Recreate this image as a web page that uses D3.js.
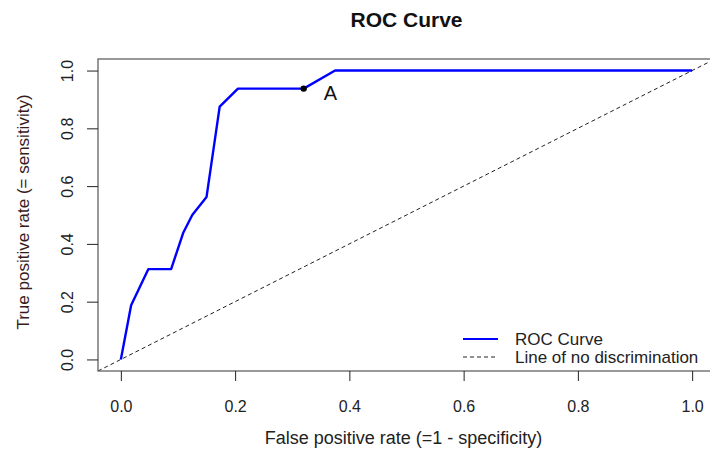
<!DOCTYPE html>
<html>
<head>
<meta charset="utf-8">
<script src="https://cdn.jsdelivr.net/npm/d3@7"></script>
<style>
  body { margin: 0; background: #fff; }
  text { font-family: "Liberation Sans", Arial, sans-serif; }
</style>
</head>
<body>
<div id="roc_chart"></div>
<script>
// ROC curve points
var fpr = [0, 0.018, 0.048, 0.088, 0.109, 0.125, 0.15, 0.173, 0.205, 0.32, 0.375, 1.0];
var tpr = [0, 0.1875, 0.3125, 0.3125, 0.4375, 0.5, 0.5625, 0.875, 0.9375, 0.9375, 1.0, 1.0];
var pointA = {x: 0.32, y: 0.9375, label: "A"};
var xTicks = [0, 0.2, 0.4, 0.6, 0.8, 1.0];
var yTicks = [0, 0.2, 0.4, 0.6, 0.8, 1.0];
var legendLabels = ["ROC Curve", "Line of no discrimination"];

function drawRoc() {
    var margin = {top: 59, right: -5, bottom: 79, left: 98},
        width = 710 - margin.left - margin.right,
        height = 450 - margin.top - margin.bottom;

    var svg = d3.select("#roc_chart")
      .append("svg")
        .attr("width", 710)
        .attr("height", 450)
        .style("display", "block");

    var g = svg.append("g")
        .attr("transform", "translate(" + margin.left + "," + margin.top + ")");

    // R style 4% padding on both axes
    var x = d3.scaleLinear().domain([-0.04, 1.04]).range([0, width]);
    var y = d3.scaleLinear().domain([-0.04, 1.04]).range([height, 0]);

    svg.append("defs").append("clipPath").attr("id", "plotclip")
      .append("rect").attr("width", width).attr("height", height);

    // diagonal, abline(0, 1)
    g.append("line")
        .attr("clip-path", "url(#plotclip)")
        .attr("x1", x(-0.04)).attr("y1", y(-0.04))
        .attr("x2", x(1.04)).attr("y2", y(1.04))
        .attr("stroke", "#222")
        .attr("stroke-width", 1)
        .attr("stroke-dasharray", "4,3");

    // ROC line
    var pts = fpr.map(function (d, i) { return [d, tpr[i]]; });
    var line = d3.line()
        .x(function (d) { return x(d[0]); })
        .y(function (d) { return y(d[1]); });
    g.append("path")
        .datum(pts)
        .attr("d", line)
        .attr("fill", "none")
        .attr("stroke", "#0000ff")
        .attr("stroke-width", 2.4)
        .attr("stroke-linejoin", "round");

    // point A
    g.append("circle")
        .attr("cx", x(pointA.x)).attr("cy", y(pointA.y))
        .attr("r", 3.2)
        .attr("fill", "#000");
    g.append("text")
        .attr("x", x(pointA.x) + 20)
        .attr("y", y(pointA.y) + 11)
        .style("font-size", "20px")
        .attr("fill", "#111")
        .text(pointA.label);

    // box
    g.append("rect")
        .attr("width", width).attr("height", height)
        .attr("fill", "none")
        .attr("stroke", "#555")
        .attr("stroke-width", 1.2);

    // X axis
    var xAxis = g.append("g")
        .attr("transform", "translate(0," + height + ")")
        .call(d3.axisBottom(x).tickValues(xTicks).tickFormat(d3.format(".1f"))
            .tickSize(10).tickPadding(20));
    xAxis.select(".domain").remove();
    xAxis.selectAll("line").attr("stroke", "#222");
    xAxis.selectAll("text").style("font-size", "16px").attr("fill", "#222")
        .style("font-family", "'Liberation Sans', Arial, sans-serif");

    // Y axis (labels rotated like R)
    var yAxis = g.append("g")
        .call(d3.axisLeft(y).tickValues(yTicks).tickFormat(d3.format(".1f"))
            .tickSize(11).tickPadding(0));
    yAxis.select(".domain").remove();
    yAxis.selectAll("line").attr("stroke", "#222");
    yAxis.selectAll("text").remove();
    yAxis.selectAll(".tick").append("text")
        .attr("transform", "translate(-31,0) rotate(-90)")
        .attr("text-anchor", "middle")
        .attr("dy", "0.35em")
        .style("font-size", "16px")
        .attr("fill", "#222")
        .text(function (d) { return d3.format(".1f")(d); });

    // titles
    svg.append("text")
        .attr("x", margin.left + width / 2)
        .attr("y", 27)
        .attr("text-anchor", "middle")
        .style("font-size", "21px")
        .style("font-weight", "bold")
        .attr("fill", "#111")
        .text("ROC Curve");

    svg.append("text")
        .attr("x", margin.left + width / 2 - 3)
        .attr("y", 444)
        .attr("text-anchor", "middle")
        .style("font-size", "18px")
        .attr("fill", "#222")
        .text("False positive rate (=1 - specificity)");

    svg.append("text")
        .attr("transform", "translate(29," + (margin.top + y(0.5) - 3) + ") rotate(-90)")
        .attr("text-anchor", "middle")
        .style("font-size", "17px")
        .attr("fill", "#3a1a1a")
        .text("True positive rate (= sensitivity)");

    // legend
    var leg = svg.append("g").attr("transform", "translate(463,339)");
    leg.append("line").attr("x1", 0).attr("x2", 35).attr("y1", 0).attr("y2", 0)
        .attr("stroke", "#0000ff").attr("stroke-width", 2);
    leg.append("line").attr("x1", 0).attr("x2", 35).attr("y1", 18).attr("y2", 18)
        .attr("stroke", "#222").attr("stroke-width", 1).attr("stroke-dasharray", "4,3");
    leg.selectAll("text.leg")
        .data(legendLabels)
        .enter()
        .append("text")
        .attr("class", "leg")
        .attr("x", 52)
        .attr("y", function (d, i) { return i * 18 + 6; })
        .style("font-size", "17px")
        .attr("fill", "#222")
        .text(function (d) { return d; });
}

drawRoc();
</script>
</body>
</html>
